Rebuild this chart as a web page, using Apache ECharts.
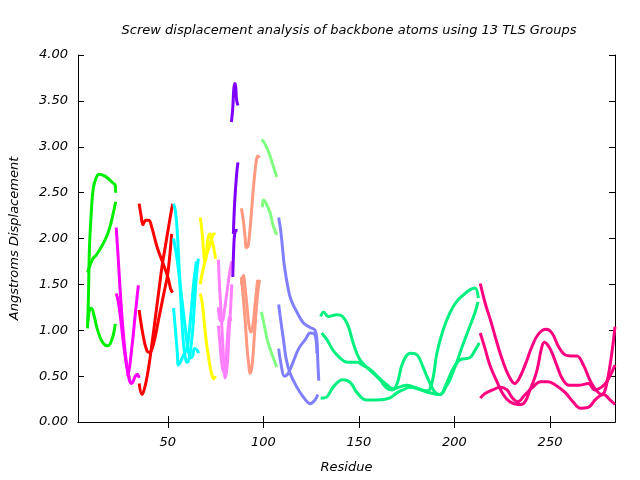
<!DOCTYPE html>
<html><head><meta charset="utf-8">
<script src="https://cdn.jsdelivr.net/npm/echarts@6/dist/echarts.min.js"></script>
<style>html,body{margin:0;padding:0;background:#fff}#c{width:640px;height:480px}</style>
</head><body><div id="c"></div>
<script>
const xTicks = [50, 100, 150, 200, 250];
const groupColors = ['#00ee00','#ff00ff','#ff0000','#00ffff','#ffff00','#ff80ff','#8000ff','#ff9980','#80ff80','#8080ff','#00f080','#ff0080'];

// Group 1 (green)
const g1a = [[8,1.02],[8.5,1.4],[9,1.9],[10,2.3],[11,2.55],[12.5,2.66],[14,2.7],[16,2.69],[18.5,2.66],[21,2.61],[22.5,2.58],[22.7,2.5]];
const g1b = [[8,1.63],[10.5,1.77],[12.5,1.82],[15,1.9],[17.5,2.0],[19.5,2.11],[21.5,2.28],[22.7,2.4]];
const g1c = [[8.2,1.1],[9,1.22],[10,1.24],[11.5,1.15],[13,1.02],[15,0.9],[17,0.84],[18.5,0.83],[20,0.86],[21.5,0.95],[22.5,1.07]];
// Group 2 (magenta)
const g2a = [[23,2.12],[24,1.8],[25,1.45],[26,1.15],[27,0.9],[28,0.7],[29,0.55],[30,0.45],[31,0.42],[32,0.45],[33,0.5],[34,0.52],[35,0.48]];
const g2b = [[23,1.4],[24,1.32],[25,1.18],[26,1.0],[27,0.82],[28,0.67],[29,0.55],[30,0.47]];
const g2c = [[29,0.5],[30,0.6],[31,0.78],[32,0.97],[33,1.18],[34,1.38],[34.6,1.49]];
// Group 3 (red)
const g3a = [[35,2.38],[36,2.25],[37,2.15],[38.5,2.2],[40,2.2],[41.5,2.13],[44.5,1.9],[48,1.7],[50,1.58],[51.5,1.45],[52.5,1.41]];
const g3b = [[35,1.22],[37,0.95],[39,0.78],[40.5,0.76],[42.5,0.85],[45,1.1],[48,1.41],[50,1.62],[52,2.05]];
const g3c = [[35,0.42],[36.5,0.3],[38,0.38],[40,0.6],[41.5,0.82],[44,1.22],[45.5,1.46],[47,1.7],[49,1.95],[51,2.2],[52.5,2.38]];
// Group 4 (cyan)
const g4a = [[53,2.38],[54,2.3],[55,2.05],[56,1.65],[57,1.25],[58,0.9],[59,0.72],[60,0.65],[61,0.68],[62,0.8],[63,1.0],[64,1.3],[65,1.6],[66,1.78]];
const g4b = [[53,1.24],[54,1.0],[55,0.75],[55.5,0.62],[56.5,0.65],[58,0.72],[60,0.8],[61,0.95],[62,1.15],[63,1.4],[64,1.6],[65,1.75]];
const g4c = [[53,2.0],[55,1.75],[57,1.4],[59,1.05],[60.5,0.8],[62,0.7],[63,0.72],[64,0.8],[65.5,0.78],[66,0.75]];
// Group 5 (yellow)
const g5a = [[67,2.23],[68,2.05],[69,1.8],[69.5,1.75],[71,2.0],[72,2.05],[73,1.98],[74,1.9],[75,1.78]];
const g5b = [[67,1.5],[68,1.62],[70,1.8],[71.5,1.9],[73,2.0],[74,2.05],[75,2.05]];
const g5c = [[67,1.4],[68,1.3],[69,1.1],[70,0.9],[71,0.75],[72,0.62],[73,0.52],[74,0.47],[75,0.5]];
// Group 6 (pink)
const g6a = [[76.5,1.77],[77,1.5],[78,1.15],[79,0.75],[79.5,0.55],[80,0.48],[81,0.6],[82,0.95],[83,1.3],[83.5,1.5]];
const g6b = [[76.5,1.05],[77.5,0.8],[78.5,0.6],[79.5,0.55],[80.5,0.7],[81.5,1.0],[82.5,1.15],[83,1.1]];
const g6c = [[76.5,1.25],[77.5,1.1],[78.5,1.1],[79.5,1.2],[80.5,1.35],[81.5,1.5],[82.5,1.65],[83.5,1.75]];
// Group 7 (purple)
const g7a = [[83.3,3.27],[84,3.43],[84.5,3.62],[85,3.69],[85.5,3.66],[86,3.51],[86.7,3.45]];
const g7b = [[84,1.58],[84.5,1.9],[85,2.05],[86,2.09],[86.5,2.09]];
const g7c = [[84.3,2.05],[85,2.4],[86,2.7],[86.7,2.83]];
// Group 8 (salmon)
const g8a = [[88.5,2.33],[89.5,2.2],[90.5,2.0],[91,1.9],[92,1.92],[93,2.1],[94,2.35],[95,2.6],[96,2.8],[97,2.9],[98,2.88]];
const g8b = [[88.5,1.58],[89.5,1.35],[90.5,1.1],[91.5,0.8],[92.5,0.6],[93,0.53],[94,0.6],[95,0.85],[96,1.15],[97,1.4],[98,1.55]];
const g8c = [[88.5,1.5],[89.5,1.6],[90.5,1.45],[91.5,1.25],[92.5,1.05],[93.5,0.98],[94.5,1.05],[95.5,1.25],[96.5,1.45],[97,1.55]];
// Group 9 (light green)
const g9a = [[99,3.08],[100,3.06],[102,2.98],[103.5,2.9],[105,2.8],[107,2.67]];
const g9b = [[99.5,2.34],[100,2.42],[101,2.4],[103.5,2.28],[105,2.15],[107,2.04]];
const g9c = [[99,1.2],[101,1.0],[102.5,0.86],[105,0.71],[107,0.6]];
// Group 10 (periwinkle)
const g10a = [[108,2.23],[109,2.1],[110,1.9],[111,1.7],[113,1.45],[114.5,1.33],[118,1.18],[121,1.08],[124.5,1.03],[127,1.0],[128,0.9],[128.5,0.65],[129,0.45]];
const g10b = [[108,1.28],[109,1.12],[110.5,0.9],[112,0.68],[114,0.53],[117.5,0.38],[121,0.27],[124.5,0.2],[127,0.24],[128.5,0.3]];
const g10c = [[108,0.8],[109.5,0.6],[111,0.5],[113,0.53],[115.5,0.65],[118.5,0.8],[122,0.9],[124.5,0.97],[127,0.95],[128,0.75]];
// Group 11 (spring green)
const g11a = [[130,1.15],[131.5,1.2],[134,1.15],[138.5,1.17],[141.5,1.15],[144.5,1.04],[147,0.86],[150.5,0.68],[155.5,0.57],[161,0.46],[164.5,0.37],[167.5,0.35],[170,0.42],[173,0.65],[177,0.75],[180.5,0.73],[183.5,0.6],[187,0.43],[190,0.32],[192.5,0.3],[196,0.43],[199,0.57],[203,0.68],[208,0.7],[210.7,0.78],[213,0.86]];
const g11b = [[130.5,0.97],[133.5,0.89],[136.5,0.78],[140,0.7],[144,0.65],[149,0.65],[152,0.62],[156,0.57],[161,0.47],[165,0.4],[168,0.36],[171,0.38],[175,0.4],[179,0.38],[183,0.35],[186,0.34],[188.5,0.45],[190.8,0.75],[194,1.0],[197.6,1.19],[201,1.31],[205,1.39],[208,1.44],[210.7,1.46],[212.5,1.35]];
const g11c = [[130,0.26],[133,0.27],[136.5,0.38],[141.5,0.46],[145.5,0.43],[149,0.32],[154,0.24],[159.5,0.24],[166,0.26],[170,0.32],[173,0.35],[177,0.38],[181,0.36],[185,0.33],[189,0.31],[192.4,0.3],[196,0.4],[197.6,0.46],[201,0.64],[204,0.82],[208,1.04],[210.7,1.19],[212.3,1.31]];
// Group 12 (deep pink)
const g12a = [[213.5,1.51],[216,1.3],[219,1.1],[222,0.88],[225,0.68],[228.5,0.5],[231.5,0.42],[234,0.48],[237.5,0.65],[240.5,0.82],[244,0.96],[248,1.01],[251,0.97],[254.5,0.82],[258,0.73],[261,0.72],[264,0.72],[267.5,0.62],[271,0.45],[274,0.35],[277,0.3],[280,0.45],[284,1.04]];
const g12b = [[213.5,0.97],[216,0.8],[218.5,0.62],[222,0.45],[225.5,0.3],[229,0.22],[233,0.19],[236,0.2],[239.5,0.35],[243,0.55],[245.5,0.8],[247,0.87],[250,0.8],[253.5,0.62],[256.5,0.47],[260,0.4],[265,0.4],[270,0.42],[273.5,0.35],[277,0.38],[280,0.45],[284,0.62]];
const g12c = [[213.5,0.26],[216,0.31],[220,0.35],[224,0.38],[227.5,0.35],[230,0.27],[233,0.22],[237,0.3],[241,0.38],[245,0.44],[249,0.44],[253,0.4],[258,0.32],[262,0.22],[266,0.15],[270,0.16],[274,0.25],[278,0.3],[281,0.25],[284,0.19]];

const groups = [[g1a,g1b,g1c],[g2a,g2b,g2c],[g3a,g3b,g3c],[g4a,g4b,g4c],[g5a,g5b,g5c],[g6a,g6b,g6c],[g7a,g7b,g7c],[g8a,g8b,g8c],[g9a,g9b,g9c],[g10a,g10b,g10c],[g11a,g11b,g11c],[g12a,g12b,g12c]];

const series = [];
groups.forEach((g, gi) => {
  g.forEach(line => {
    series.push({type:'line', data: line, showSymbol:false, smooth:0.4, silent:true,
      lineStyle:{color: groupColors[gi], width:3}, itemStyle:{color: groupColors[gi]}, animation:false});
  });
});

const font = 'DejaVu Sans';
const chart = echarts.init(document.getElementById('c'));
chart.setOption({
  animation:false,
  title:{text:'Screw displacement analysis of backbone atoms using 13 TLS Groups', left:344, top:19, textAlign:'center',
    textStyle:{fontFamily:font, fontStyle:'italic', fontWeight:'normal', fontSize:13, color:'#000'}},
  grid:{left:77, right:25, top:55, bottom:58},
  xAxis:[{type:'value', min:3, max:284, name:'Residue', nameLocation:'middle', nameGap:39,
    nameTextStyle:{fontFamily:font, fontStyle:'italic', fontSize:13, color:'#000'},
    axisLine:{show:true, lineStyle:{color:'#000', width:1}},
    axisTick:{show:true, inside:true, length:6, customValues:xTicks, lineStyle:{color:'#000'}},
    axisLabel:{customValues:xTicks, fontFamily:font, fontStyle:'italic', fontSize:13, color:'#000', margin:14},
    splitLine:{show:false}},
   {type:'value', min:3, max:284, position:'top',
    axisLine:{show:true, lineStyle:{color:'#000', width:1}},
    axisTick:{show:true, inside:true, length:6, customValues:xTicks, lineStyle:{color:'#000'}},
    axisLabel:{show:false}, splitLine:{show:false}}],
  yAxis:[{type:'value', min:0, max:4, interval:0.5, name:'Angstroms Displacement', nameLocation:'middle', nameGap:57,
    nameTextStyle:{fontFamily:font, fontStyle:'italic', fontSize:13, color:'#000'},
    axisLine:{show:true, lineStyle:{color:'#000', width:1}},
    axisTick:{show:true, inside:true, length:6, lineStyle:{color:'#000'}},
    axisLabel:{formatter:v=>v.toFixed(2), fontFamily:font, fontStyle:'italic', fontSize:13, color:'#000', margin:10},
    splitLine:{show:false}},
   {type:'value', min:0, max:4, interval:0.5, position:'right',
    axisLine:{show:true, lineStyle:{color:'#000', width:1}},
    axisTick:{show:true, inside:true, length:6, lineStyle:{color:'#000'}},
    axisLabel:{show:false}, splitLine:{show:false}}],
  series: series
});
</script></body></html>
